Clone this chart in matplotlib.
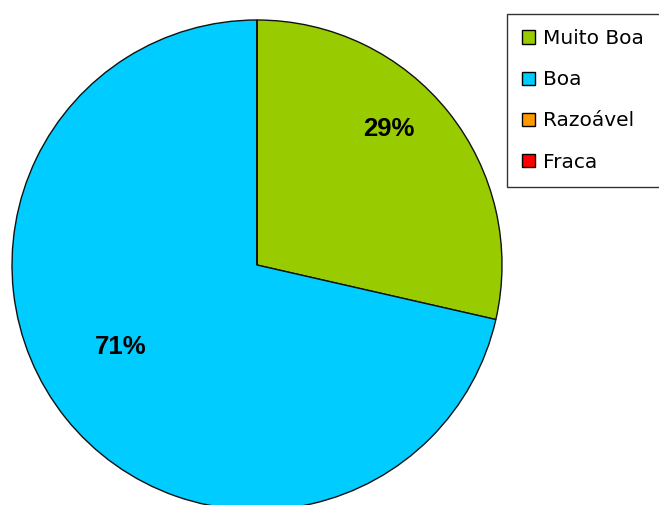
import matplotlib.pyplot as plt
from matplotlib.patches import Patch

# avaliacao - contagem de respostas
categorias = ['Muito Boa', 'Boa', 'Razoável', 'Fraca']
respostas = [2, 5, 0, 0]
cores = ['#99CC00', '#00CCFF', '#FF9900', '#FF0000']

fig = plt.figure(figsize=(6.59, 5.05), dpi=100)
ax = fig.add_axes([12 / 659, -5 / 505, 490 / 659, 490 / 505])

def pct(p):
    if p <= 0:
        return ''
    return '%.0f%%' % p

wedges, texts, autotexts = ax.pie(respostas, colors=cores, startangle=90, counterclock=False,
                                  autopct=pct, pctdistance=0.7, radius=1,
                                  wedgeprops=dict(edgecolor='#111111', linewidth=1.0))
ax.set_xlim(-1, 1)
ax.set_ylim(-1, 1)
ax.set_aspect('auto')

# excel puts the labels a bit off from the wedge middle
label_pos = [(0.540, 0.555), (-0.555, -0.335)]
for t, pos in zip([a for a in autotexts if a.get_text()], label_pos):
    t.set_position(pos)
    t.set_fontfamily('Liberation Sans')
    t.set_fontweight('bold')
    t.set_fontsize(18.5)
    t.set_ha('center')
    t.set_va('center')

# legend box runs off the right edge in the original
handles = [Patch(facecolor=c, edgecolor='black', linewidth=1) for c in cores]
leg = fig.legend(handles, categorias, loc='upper left',
                 bbox_to_anchor=(507 / 659, 1 - 14 / 505, 200 / 659, 0), mode='expand',
                 frameon=True, fancybox=False, fontsize=14.5, handlelength=0.62, handleheight=0.62,
                 handletextpad=0.4, labelspacing=1.1, borderpad=0.75, borderaxespad=0)
leg.get_frame().set_edgecolor('black')
leg.get_frame().set_linewidth(1.0)

fig.savefig('out.png', dpi=100)
